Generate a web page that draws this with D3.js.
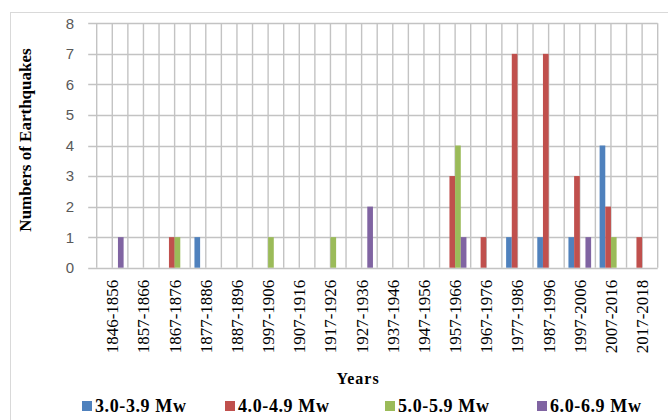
<!DOCTYPE html>
<html>
<head>
<meta charset="utf-8">
<script src="https://cdn.jsdelivr.net/npm/d3@7"></script>
<style>
  html, body { margin: 0; padding: 0; background: #fff; }
  svg { display: block; }
</style>
</head>
<body>
<svg id="chart" width="668" height="420"></svg>
<script>
// Decades (category axis)
const categories = [
  "1846-1856", "1857-1866", "1867-1876", "1877-1886", "1887-1896", "1997-1906",
  "1907-1916", "1917-1926", "1927-1936", "1937-1946", "1947-1956", "1957-1966",
  "1967-1976", "1977-1986", "1987-1996", "1997-2006", "2007-2016", "2017-2018"
];

// Earthquake counts per magnitude class
const mag3 = [0, 0, 0, 1, 0, 0, 0, 0, 0, 0, 0, 0, 0, 1, 1, 1, 4, 0];
const mag4 = [0, 0, 1, 0, 0, 0, 0, 0, 0, 0, 0, 3, 1, 7, 7, 3, 2, 1];
const mag5 = [0, 0, 1, 0, 0, 1, 0, 1, 0, 0, 0, 4, 0, 0, 0, 0, 1, 0];
const mag6 = [1, 0, 0, 0, 0, 0, 0, 0, 2, 0, 0, 1, 0, 0, 0, 1, 0, 0];

const seriesNames = ["3.0-3.9 Mw", "4.0-4.9 Mw", "5.0-5.9 Mw", "6.0-6.9 Mw"];
const seriesColors = ["#4F81BD", "#C0504D", "#9BBB59", "#8064A2"];
const seriesValues = [mag3, mag4, mag5, mag6];

const yTicks = [0, 1, 2, 3, 4, 5, 6, 7, 8];

const SERIF = "'Liberation Serif', 'Times New Roman', serif";
const SANS = "'Liberation Sans', Arial, sans-serif";

const svg = d3.select("#chart");

// Outer chart frame
svg.append("rect")
  .attr("x", 10.5).attr("y", 12.5)
  .attr("width", 680).attr("height", 420)
  .attr("fill", "none").attr("stroke", "#d9d9d9").attr("stroke-width", 1);

const plot = { left: 96.7, right: 657.7, top: 23.3, bottom: 267.7 };

const x = d3.scaleBand().domain(categories).range([plot.left, plot.right]).padding(0);
const y = d3.scaleLinear().domain([0, 8]).range([plot.bottom, plot.top]);

// Bars: gap width 150% of a bar
const barW = x.bandwidth() / 5.5;
const inner = d3.scaleBand().domain(d3.range(seriesNames.length))
  .range([0.75 * barW, 0.75 * barW + 4 * barW]).padding(0);

const gridColor = "#c3c3c3";

// Horizontal gridlines (with outside ticks on the value axis)
svg.append("g").selectAll("line").data(yTicks).join("line")
  .attr("x1", plot.left - 8.5).attr("x2", plot.right)
  .attr("y1", d => Math.round(y(d)) + 0.5).attr("y2", d => Math.round(y(d)) + 0.5)
  .attr("stroke", gridColor).attr("stroke-width", 1.4);

// Vertical gridlines at category boundaries and centres
const vLines = [];
categories.forEach(c => { vLines.push(x(c)); vLines.push(x(c) + x.bandwidth() / 2); });
vLines.push(plot.right);
svg.append("g").selectAll("line").data(vLines).join("line")
  .attr("x1", d => d).attr("x2", d => d)
  .attr("y1", plot.top).attr("y2", plot.bottom)
  .attr("stroke", gridColor).attr("stroke-width", 1.4);

// Bars
const bars = [];
categories.forEach((c, i) => {
  seriesValues.forEach((vals, s) => {
    if (vals[i] > 0) bars.push({ c, s, v: vals[i] });
  });
});
svg.append("g").selectAll("rect").data(bars).join("rect")
  .attr("x", d => x(d.c) + inner(d.s))
  .attr("width", inner.bandwidth())
  .attr("y", d => y(d.v))
  .attr("height", d => y(0) - y(d.v))
  .attr("fill", d => seriesColors[d.s]);

// Value axis labels
svg.append("g").selectAll("text").data(yTicks).join("text")
  .attr("x", 74).attr("y", d => y(d))
  .attr("dy", "0.36em")
  .attr("text-anchor", "end")
  .style("font-family", SANS)
  .style("font-size", "15px")
  .attr("fill", "#595959")
  .text(d => d);

// Category labels, rotated
svg.append("g").selectAll("text").data(categories).join("text")
  .attr("transform", d => `translate(${x(d) + x.bandwidth() / 2},${plot.bottom + 12}) rotate(-90)`)
  .attr("dy", "0.35em")
  .attr("text-anchor", "end")
  .style("font-family", SERIF)
  .style("font-size", "17px")
  .attr("fill", "#000")
  .text(d => d);

// Axis titles
svg.append("text")
  .attr("transform", `translate(31,140) rotate(-90)`)
  .attr("text-anchor", "middle")
  .style("font-family", SERIF)
  .style("font-weight", "bold")
  .style("font-size", "17px")
  .attr("fill", "#000")
  .text("Numbers of Earthquakes");

svg.append("text")
  .attr("x", 358).attr("y", 384)
  .attr("text-anchor", "middle")
  .style("font-family", SERIF)
  .style("font-weight", "bold")
  .style("font-size", "16px")
  .style("letter-spacing", "1px")
  .attr("fill", "#000")
  .text("Years");

// Legend
const legendX = [82, 225, 385, 537];
const legend = svg.append("g").selectAll("g").data(seriesNames).join("g")
  .attr("transform", (d, i) => `translate(${legendX[i]},401)`);
legend.append("rect")
  .attr("width", 10).attr("height", 10)
  .attr("fill", (d, i) => seriesColors[i]);
legend.append("text")
  .attr("x", 13).attr("y", 11)
  .style("font-family", SERIF)
  .style("font-weight", "bold")
  .style("font-size", "18px")
  .style("letter-spacing", "0.6px")
  .attr("fill", "#000")
  .text(d => d);
</script>
</body>
</html>
